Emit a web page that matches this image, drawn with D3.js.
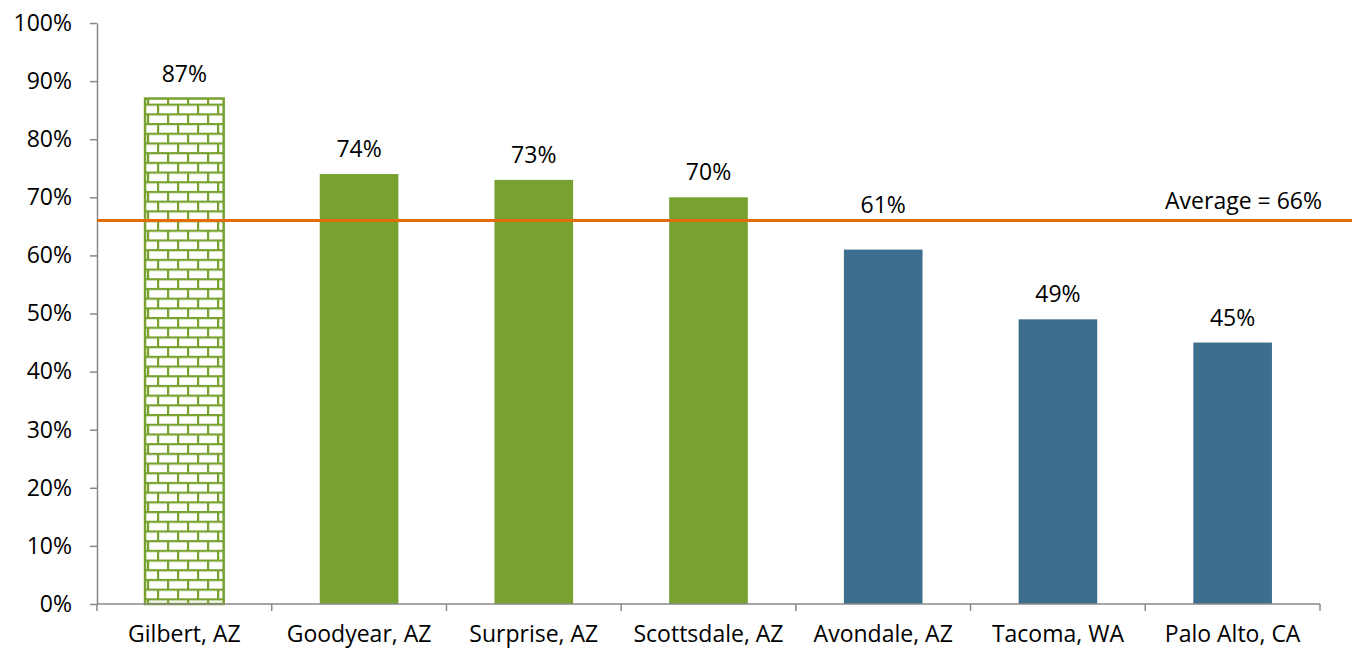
<html>
<head>
    <title>City Rates</title>
    <style>
        body{
            margin: 0;
            background: #fff;
        }
        svg text{
            font-family: "Open Sans", Roboto, sans-serif;
            fill: #000;
        }
    </style>
</head>
<body>
<script src="https://d3js.org/d3.v7.min.js"></script>
<svg></svg>
<script>

    var cities = ["Gilbert, AZ", "Goodyear, AZ", "Surprise, AZ", "Scottsdale, AZ", "Avondale, AZ", "Tacoma, WA", "Palo Alto, CA"];
    var rates = [87, 74, 73, 70, 61, 49, 45];
    var yTicks = [0, 10, 20, 30, 40, 50, 60, 70, 80, 90, 100];
    var average = 66;

    var margin = {top: 23, right: 32, bottom: 45, left: 97};
    let width = 1352 - margin.left - margin.right;
    let height = 649 - margin.top - margin.bottom;
    var fs = "23px";

    let svg = d3.select("svg")
        .attr("width", 1352)
        .attr("height", 649);

    var defs = svg.append("defs");
    var pat = defs.append("pattern")
        .attr("id", "brick")
        .attr("patternUnits", "userSpaceOnUse")
        .attr("width", 20)
        .attr("height", 19.4)
        .attr("x", 0)
        .attr("y", 3);
    pat.append("rect").attr("width", 20).attr("height", 19.4).attr("fill", "#fff");
    // horizontal mortar
    pat.append("rect").attr("x", 0).attr("y", 0).attr("width", 20).attr("height", 2.2).attr("fill", "#78A22F");
    pat.append("rect").attr("x", 0).attr("y", 9.7).attr("width", 20).attr("height", 2.2).attr("fill", "#78A22F");
    // vertical mortar
    pat.append("rect").attr("x", 0).attr("y", 0).attr("width", 2.2).attr("height", 9.7).attr("fill", "#78A22F");
    pat.append("rect").attr("x", 10).attr("y", 9.7).attr("width", 2.2).attr("height", 9.7).attr("fill", "#78A22F");

    var g = svg.append("g")
        .attr("transform", "translate(" + margin.left + "," + margin.top + ")");

    var x = d3.scaleBand()
        .domain(cities)
        .range([0, width])
        .paddingInner(0.55)
        .paddingOuter(0.275);

    var y = d3.scaleLinear()
        .domain([0, 100])
        .range([height, 0]);

    var yAxis = g.append("g")
        .call(d3.axisLeft(y).tickValues(yTicks).tickFormat(d => d + "%").tickSize(7).tickSizeOuter(0));
    yAxis.selectAll("text").style("font-size", fs).attr("x", -25);
    yAxis.select(".domain").attr("stroke", "#888").attr("stroke-width", 1.5);
    yAxis.selectAll(".tick line").attr("stroke", "#888").attr("stroke-width", 1.5);

    // bars
    g.selectAll(".bar")
        .data(cities)
        .enter().append("rect")
        .attr("class", "bar")
        .attr("x", d => x(d))
        .attr("width", x.bandwidth())
        .attr("y", (d, i) => y(rates[i]))
        .attr("height", (d, i) => height - y(rates[i]))
        .attr("fill", (d, i) => i == 0 ? "url(#brick)" : (i < 4 ? "#78A22F" : "#3E6E8E"))
        .attr("stroke", (d, i) => i == 0 ? "#78A22F" : "none")
        .attr("stroke-width", 2.5);

    // value labels, pushed above the average line when they would hit it
    function labelY(v){
        let ly = y(v) - 17;
        if (ly > y(average) - 8 && ly - 20 < y(average)) ly = y(average) - 8;
        return ly;
    }
    g.selectAll(".lbl")
        .data(cities)
        .enter().append("text")
        .attr("class", "lbl")
        .attr("x", d => x(d) + x.bandwidth() / 2)
        .attr("y", (d, i) => labelY(rates[i]))
        .attr("text-anchor", "middle")
        .style("font-size", fs)
        .text((d, i) => rates[i] + "%");

    // x axis with category boundary ticks
    var xAxis = g.append("g")
        .attr("transform", "translate(0," + height + ")");
    xAxis.append("line")
        .attr("x1", 0).attr("x2", width)
        .attr("stroke", "#888").attr("stroke-width", 1.5);
    var step = x.step();
    xAxis.selectAll(".xt")
        .data(d3.range(cities.length + 1))
        .enter().append("line")
        .attr("x1", d => d * step).attr("x2", d => d * step)
        .attr("y1", 0).attr("y2", 7)
        .attr("stroke", "#888").attr("stroke-width", 1.5);
    xAxis.selectAll(".xl")
        .data(cities)
        .enter().append("text")
        .attr("x", d => x(d) + x.bandwidth() / 2)
        .attr("y", 38)
        .attr("text-anchor", "middle")
        .style("font-size", fs)
        .text(d => d);

    // average line
    g.append("line")
        .attr("x1", 0).attr("x2", 1352 - margin.left)
        .attr("y1", y(average)).attr("y2", y(average))
        .attr("stroke", "#E36C0A")
        .attr("stroke-width", 3);
    g.append("text")
        .attr("x", width + 2)
        .attr("y", y(average) - 12)
        .attr("text-anchor", "end")
        .style("font-size", fs)
        .text("Average = " + average + "%");

</script>
</body>
</html>
